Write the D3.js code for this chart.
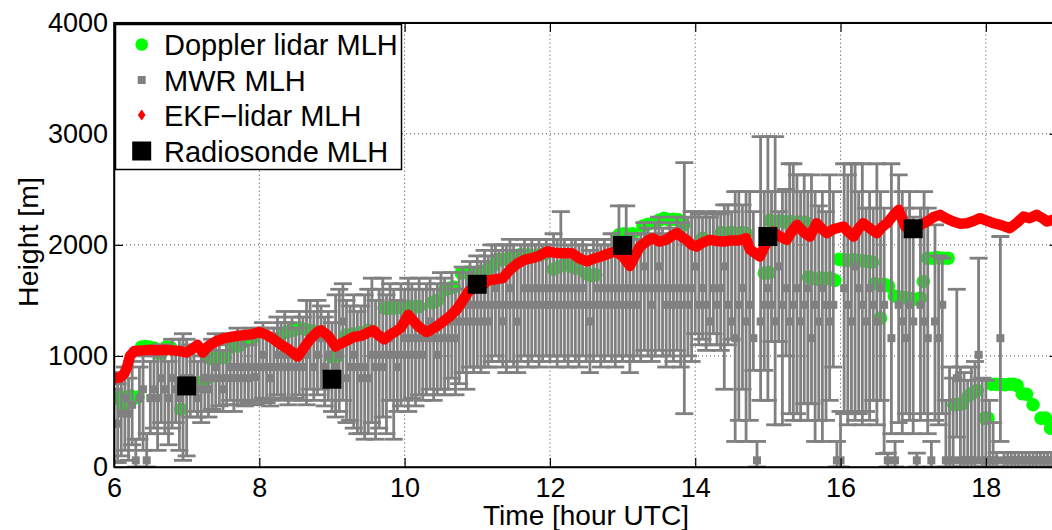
<!DOCTYPE html>
<html>
<head>
<meta charset="utf-8">
<script src="https://cdn.jsdelivr.net/npm/d3@7"></script>
<style>
  html, body { margin: 0; padding: 0; background: #fff; }
  svg { display: block; font-family: "Liberation Sans", Arial, sans-serif; }
</style>
</head>
<body>
<svg id="chart" width="1052" height="530"></svg>
<script>
// ---- Doppler lidar MLH (time in hour UTC, height in m)
const dopTime = [6.03,6.08,6.13,6.18,6.23,6.28,6.33,
  6.38,6.43,6.48,6.55,6.60,6.65,6.72,6.78,
  6.92,7.20,7.25,
  7.28,7.33,7.38,7.43,7.48,7.53,
  7.62,7.67,7.72,7.80,7.90,
  8.32,8.38,8.44,8.50,8.56,8.62,8.68,8.74,
  9.00,9.08,9.20,9.30,9.40,9.50,
  9.72,9.78,9.84,9.90,9.96,10.02,10.08,10.14,10.20,
  10.38,10.45,10.55,10.62,10.68,
  10.78,10.85,10.92,10.98,11.05,11.12,
  11.20,11.27,11.33,11.40,11.45,
  11.52,11.58,11.65,11.72,11.78,11.86,11.93,
  12.05,12.12,12.20,12.28,12.35,
  12.50,12.57,12.63,
  12.95,13.02,13.08,13.14,13.28,13.35,
  13.50,13.57,13.64,13.70,13.77,13.84,
  14.10,14.36,14.43,14.50,14.57,14.64,14.70,
  14.95,15.02,
  15.03,15.10,15.17,15.24,15.31,15.38,15.45,15.52,
  15.56,15.62,15.68,15.74,15.80,15.86,15.92,
  15.98,16.04,16.10,16.17,16.24,16.31,16.38,16.44,
  16.47,16.54,16.60,16.66,16.55,
  16.74,16.80,16.86,16.92,16.98,17.04,17.10,17.14,
  17.20,17.27,17.34,17.41,17.48,
  17.56,17.62,17.68,17.76,17.82,17.88,17.98,18.03,
  18.08,18.14,18.20,18.26,18.32,18.38,18.43,18.50,18.56,
  18.65,18.76,18.82,18.89];
const dopHeight = [620,630,520,630,640,620,630,
  1080,1085,1080,1070,1030,1025,1080,1075,
  520,760,780,
  990,975,975,980,985,990,
  1080,1100,1090,1130,1150,
  1200,1215,1230,1240,1250,1240,1230,1225,
  990,1000,1190,1200,1210,1230,
  1430,1430,1430,1435,1440,1440,1445,1440,1445,
  1480,1500,1595,1610,1620,
  1745,1750,1745,1750,1760,1770,
  1800,1865,1865,1870,1880,
  1900,1910,1910,1905,1900,1910,1920,
  1780,1800,1820,1810,1790,
  1740,1725,1730,
  2090,2100,2095,2100,2170,2185,
  2220,2240,2225,2230,2225,2180,
  2060,2110,2105,2110,2100,2110,2105,
  1745,1750,
  2220,2210,2215,2205,2210,2200,2205,2200,
  1710,1700,1690,1700,1695,1700,1680,
  1870,1865,1860,1865,1860,1855,1850,1845,
  1650,1640,1645,1630,1340,
  1540,1530,1525,1520,1515,1510,1520,1670,
  1880,1880,1885,1880,1880,
  560,565,570,640,665,690,440,440,
  745,745,745,740,745,745,735,660,655,
  560,440,440,350];

// ---- MWR MLH with error bar bounds
const mwrTime = [
  6.00,6.05,6.10,6.15,6.20,6.25,6.30,6.35,6.40,6.45,
  6.50,6.55,6.60,6.65,6.70,6.75,6.80,6.85,6.90,6.95,
  7.00,7.05,7.10,7.15,7.20,7.25,7.30,7.35,7.40,7.45,
  7.50,7.55,7.60,7.65,7.70,7.75,7.80,7.85,7.90,7.95,
  8.00,8.05,8.10,8.15,8.20,8.25,8.30,8.35,8.40,8.45,
  8.50,8.55,8.60,8.65,8.70,8.75,8.80,8.85,8.90,8.95,
  9.00,9.05,9.10,9.15,9.20,9.25,9.30,9.35,9.40,9.45,
  9.50,9.55,9.60,9.65,9.70,9.75,9.80,9.85,9.90,9.95,
  10.00,10.05,10.10,10.15,10.20,10.25,10.30,10.35,10.40,10.45,
  10.50,10.55,10.60,10.65,10.70,10.75,10.80,10.85,10.90,10.95,
  11.00,11.05,11.10,11.15,11.20,11.25,11.30,11.35,11.40,11.45,
  11.50,11.55,11.60,11.65,11.70,11.75,11.80,11.85,11.90,11.95,
  12.00,12.05,12.10,12.15,12.20,12.25,12.30,12.35,12.40,12.45,
  12.50,12.55,12.60,12.65,12.70,12.75,12.80,12.85,12.90,12.95,
  13.00,13.05,13.10,13.15,13.20,13.25,13.30,13.35,13.40,13.45,
  13.50,13.55,13.60,13.65,13.70,13.75,13.80,13.85,13.90,13.95,
  14.00,14.05,14.10,14.15,14.20,14.25,14.30,14.35,14.40,14.45,
  14.50,14.55,14.60,14.65,14.70,14.75,14.80,14.85,14.90,14.95,
  15.00,15.05,15.10,15.15,15.20,15.25,15.30,15.35,15.40,15.45,
  15.50,15.55,15.60,15.65,15.70,15.75,15.80,15.85,15.90,15.95,
  16.00,16.05,16.10,16.15,16.20,16.25,16.30,16.35,16.40,16.45,
  16.50,16.55,16.60,16.65,16.70,16.75,16.80,16.85,16.90,16.95,
  17.00,17.05,17.10,17.15,17.20,17.25,17.30,17.35,17.40,17.45,
  17.50,17.55,17.60,17.65,17.70,17.75,17.80,17.85,17.90,17.95,
  18.00,18.05,18.10,18.15,18.20,18.25,18.30,18.35,18.40,18.45,
  18.50,18.55,18.60,18.65,18.70,18.75,18.80,18.85,18.90,18.95];
const mwrHeight = [
  390,390,480,620,480,560,60,620,700,60,
  620,700,620,800,700,620,800,700,620,800,
  700,800,700,620,700,800,700,800,900,800,
  700,800,900,800,900,800,900,800,900,810,
  900,1010,900,800,900,1010,900,1010,900,1010,
  900,1010,900,1010,1160,900,1010,1160,900,1010,
  800,900,1010,1310,800,900,1010,900,800,900,
  800,1010,900,1010,900,1010,1160,1010,900,1010,
  1160,1010,1160,1010,1160,1010,1160,1310,1160,1010,
  1160,1310,1160,1310,1160,1310,1460,1310,1460,1310,
  1460,1310,1460,1310,1460,1610,1460,1310,1460,1610,
  1460,1310,1460,1610,1460,1610,1460,1610,1460,1610,
  1460,1610,1460,1610,1460,1610,1460,1610,1460,1610,
  1460,1310,1460,1610,1460,1610,1460,1610,1460,1610,
  1460,1610,1460,1610,1460,1610,1805,1610,1460,1610,
  1805,1610,1460,1610,1460,1610,1460,1610,1460,1610,
  1805,1460,1610,1460,1310,1610,1460,1610,1805,1460,
  1310,1160,1460,1610,1310,1460,1160,60,1310,1460,
  1610,1460,1310,1805,1460,1610,1310,1460,1610,1310,
  1460,1610,1160,1460,1310,1610,1460,1310,1460,60,
  60,1610,1460,1310,1805,1610,1460,1310,1610,1460,
  1310,1610,1460,60,1160,60,1460,1310,1160,1460,
  1310,60,1460,1310,1160,60,1310,1160,1460,60,
  60,60,800,60,60,60,60,60,1010,60,
  60,60,60,60,1160,60,60,60,60,60,
  60,60,60,60,60,60,60,60,60,60];
const mwrLower = [
  50,40,100,150,60,200,0,250,150,0,
  300,350,150,400,300,200,350,400,150,60,
  100,450,500,450,400,500,450,520,500,550,
  500,560,600,500,560,600,550,580,600,560,
  600,620,580,550,600,650,620,620,560,600,
  620,650,600,560,700,600,650,700,550,600,
  500,450,500,600,400,420,350,300,300,250,
  300,400,250,350,450,300,600,250,500,550,
  600,500,620,550,650,600,650,700,600,650,
  700,650,700,800,650,750,850,700,900,850,
  900,850,900,900,950,1000,950,900,850,950,
  900,850,950,1000,900,950,1000,900,950,1000,
  950,1000,900,1000,950,900,1000,950,900,1000,
  950,850,950,1000,900,950,1000,950,900,1000,
  950,1000,850,950,1000,950,1050,1000,950,1000,
  1050,1000,900,1000,950,1050,900,480,1000,950,
  1200,1100,1150,1050,1100,1200,1100,1050,700,1100,
  1150,230,420,700,230,420,870,0,600,870,
  600,1130,380,1130,380,1000,480,420,480,420,
  570,420,570,230,420,230,420,600,900,0,
  0,480,380,500,420,480,380,500,420,600,
  380,600,120,0,300,0,400,300,480,420,
  300,0,420,480,300,0,420,380,480,0,
  0,0,270,0,0,0,0,0,60,0,
  0,0,0,0,230,0,0,0,0,0,
  0,0,0,0,0,0,0,0,0,0];
const mwrUpper = [
  700,750,850,900,800,950,250,900,1000,300,
  950,1050,1000,1100,1050,950,1150,1050,1150,1200,
  1150,1100,1050,950,1000,1100,1050,1150,1200,1100,
  1050,1150,1200,1150,1250,1150,1200,1100,1250,1200,
  1250,1300,1250,1200,1250,1350,1300,1400,1300,1350,
  1250,1400,1350,1500,1500,1400,1500,1450,1350,1400,
  1300,1550,1600,1650,1500,1450,1550,1400,1450,1550,
  1600,1700,1500,1600,1700,1550,1650,1600,1500,1650,
  1600,1700,1650,1600,1700,1600,1650,1700,1600,1650,
  1750,1700,1650,1750,1600,1750,1800,1750,1850,1800,
  1900,1850,1950,1900,2000,2000,1950,2000,2000,2050,
  2000,1950,2000,2050,2000,2050,2000,2050,2000,2050,
  2000,2100,2050,2300,2050,2000,2050,2050,2000,2050,
  2000,1950,2050,2050,2000,2050,2000,2100,2050,2350,
  2050,2350,2050,2100,2050,2100,2200,2150,2100,2200,
  2250,2150,2100,2200,2150,2250,2200,2740,2250,2300,
  2300,2280,2250,2300,2250,2280,2300,2280,2360,2360,
  2300,2480,2480,2360,2480,2480,2300,230,2975,2480,
  2975,2480,2975,2300,2480,2500,2730,2730,2630,2480,
  2630,2480,2630,2480,2350,2480,2300,2630,2480,230,
  500,2730,2630,2730,2730,2480,2730,2330,2480,2330,
  2730,2480,2330,125,2730,230,2630,2480,2330,2480,
  2250,125,2330,2480,2330,230,2180,1900,1880,600,
  900,800,1600,900,850,780,900,950,1880,800,
  780,600,400,130,2075,130,130,130,130,130,
  130,130,130,130,130,130,130,130,130,130];

// ---- EKF-lidar MLH
const ekfTime = [6.00,6.08,6.14,6.18,6.22,6.28,6.40,6.50,6.60,6.70,6.80,6.90,
  7.00,7.10,7.15,7.22,7.30,7.40,7.50,7.60,7.75,7.90,
  8.00,8.10,8.20,8.30,8.40,8.53,8.60,8.70,8.80,8.85,8.95,
  9.05,9.15,9.30,9.40,9.50,9.57,9.65,9.72,9.80,9.90,9.95,
  10.05,10.10,10.20,10.30,10.35,10.45,10.55,10.62,10.72,10.80,10.88,10.95,
  11.05,11.15,11.25,11.35,11.45,11.55,11.65,11.75,11.85,11.96,
  12.05,12.15,12.30,12.40,12.51,12.60,12.70,12.80,12.90,
  13.00,13.10,13.17,13.24,13.35,13.42,13.50,13.60,13.68,13.75,13.82,13.88,13.95,
  14.02,14.10,14.20,14.30,14.39,14.50,14.60,14.70,14.75,14.89,14.95,
  15.07,15.15,15.26,15.33,15.40,15.50,15.58,15.67,15.75,15.81,15.90,
  16.04,16.10,16.18,16.25,16.31,16.40,16.50,16.57,16.64,16.72,16.80,16.89,
  17.00,17.10,17.19,17.28,17.37,17.45,17.55,17.65,17.74,17.83,17.92,
  18.00,18.10,18.20,18.33,18.43,18.52,18.60,18.70,18.78,18.84,18.92];
const ekfHeight = [800,805,840,900,1000,1045,1050,1055,1050,1055,1050,1045,
  1030,1075,1100,1030,1090,1130,1155,1170,1185,1195,
  1215,1190,1150,1100,1060,995,1060,1150,1215,1230,1180,
  1085,1120,1170,1180,1210,1230,1180,1150,1190,1230,1255,
  1370,1330,1260,1215,1230,1270,1320,1355,1420,1500,1580,1610,
  1625,1680,1690,1700,1775,1830,1865,1880,1900,1940,
  1930,1925,1925,1880,1850,1875,1895,1920,1940,
  1900,1810,1900,1985,2040,2060,2030,2045,2080,2105,2070,2045,2000,
  1985,2020,2045,2035,2030,2040,2040,2060,1960,1895,1980,
  2120,2080,2045,2120,2180,2110,2075,2195,2140,2105,2140,
  2165,2120,2075,2150,2195,2150,2105,2160,2195,2260,2315,2165,
  2150,2180,2210,2250,2270,2240,2210,2190,2195,2215,2240,
  2220,2195,2180,2150,2200,2255,2240,2270,2240,2210,2225];

// ---- Radiosonde MLH
const sondeTime = [7, 9, 11, 13, 15, 17];
const sondeHeight = [730, 790, 1645, 1995, 2075, 2145];

// ---- Axis ticks and labels
const xTicks = [6, 8, 10, 12, 14, 16, 18];
const yTicks = [0, 1000, 2000, 3000, 4000];
const legendLabels = ["Doppler lidar MLH", "MWR MLH", "EKF\u2212lidar MLH", "Radiosonde MLH"];

const svg = d3.select("#chart");
const plotL = 114, plotR = 1058.5, plotT = 22.7, plotB = 467;

const x = d3.scaleLinear().domain([6, 19]).range([plotL, plotR]);
const y = d3.scaleLinear().domain([0, 4000]).range([plotB, plotT]);

svg.append("rect").attr("width", 1052).attr("height", 530).attr("fill", "#fff");

svg.append("defs").append("clipPath").attr("id", "plotClip")
  .append("rect").attr("x", plotL).attr("y", plotT)
  .attr("width", plotR - plotL).attr("height", plotB - plotT);

// dotted grid
const grid = svg.append("g").attr("stroke", "#444").attr("stroke-width", 1)
  .attr("stroke-dasharray", "1,3");
grid.selectAll("line.gx").data(xTicks.filter(d => d > 6)).join("line").attr("class", "gx")
  .attr("x1", d => x(d)).attr("x2", d => x(d)).attr("y1", plotT).attr("y2", plotB);
grid.selectAll("line.gy").data(yTicks.filter(d => d > 0 && d < 4000)).join("line").attr("class", "gy")
  .attr("y1", d => y(d)).attr("y2", d => y(d)).attr("x1", plotL).attr("x2", plotR);

const plot = svg.append("g").attr("clip-path", "url(#plotClip)");

// Doppler lidar dots
plot.append("g").selectAll("circle").data(dopTime).join("circle")
  .attr("cx", d => x(d)).attr("cy", (d, i) => y(dopHeight[i]))
  .attr("r", 6.8).attr("fill", "#00ff00");

// MWR error bars and markers
const gray = "#808080";
const mwr = plot.append("g").attr("stroke", gray).attr("stroke-width", 2.8);
const capW = 9;
mwrTime.forEach((t, i) => {
  const cx = x(t), lo = y(mwrLower[i]), hi = y(mwrUpper[i]);
  mwr.append("line").attr("x1", cx).attr("x2", cx).attr("y1", lo).attr("y2", hi);
  mwr.append("line").attr("x1", cx - capW).attr("x2", cx + capW).attr("y1", lo).attr("y2", lo);
  mwr.append("line").attr("x1", cx - capW).attr("x2", cx + capW).attr("y1", hi).attr("y2", hi);
});
plot.append("g").selectAll("rect").data(mwrTime).join("rect")
  .attr("x", d => x(d) - 4).attr("y", (d, i) => y(mwrHeight[i]) - 4)
  .attr("width", 8).attr("height", 8).attr("fill", gray);

// EKF-lidar trace
plot.append("path")
  .datum(ekfTime.map((t, i) => [t, ekfHeight[i]]))
  .attr("fill", "none").attr("stroke", "#ff0000").attr("stroke-width", 10.5)
  .attr("stroke-linejoin", "round").attr("stroke-linecap", "round")
  .attr("d", d3.line().x(d => x(d[0])).y(d => y(d[1])));

// Radiosonde squares
plot.append("g").selectAll("rect").data(sondeTime).join("rect")
  .attr("x", d => x(d) - 9.5).attr("y", (d, i) => y(sondeHeight[i]) - 9.5)
  .attr("width", 19).attr("height", 19).attr("fill", "#000");

// axes (ticks inward on all four sides)
const tickFont = "27px";
const gx = svg.append("g").attr("transform", `translate(0,${plotB})`)
  .call(d3.axisBottom(x).tickValues(xTicks).tickFormat(d3.format("d"))
    .tickSizeInner(-9).tickSizeOuter(0).tickPadding(11));
const gy = svg.append("g").attr("transform", `translate(${plotL},0)`)
  .call(d3.axisLeft(y).tickValues(yTicks).tickFormat(d3.format("d"))
    .tickSizeInner(-9).tickSizeOuter(0).tickPadding(6));
const gt = svg.append("g").attr("transform", `translate(0,${plotT})`)
  .call(d3.axisTop(x).tickValues(xTicks).tickSizeInner(-9).tickSizeOuter(0).tickFormat(""));
const gr = svg.append("g").attr("transform", `translate(${plotR},0)`)
  .call(d3.axisRight(y).tickValues(yTicks).tickSizeInner(-9).tickSizeOuter(0).tickFormat(""));
[gx, gy, gt, gr].forEach(g => {
  g.select(".domain").attr("stroke", "#000").attr("stroke-width", 1.5);
  g.selectAll(".tick line").attr("stroke", "#000").attr("stroke-width", 1.2);
  g.selectAll(".tick text").attr("fill", "#000")
    .style("font-size", tickFont).style("font-family", '"Liberation Sans", Arial, sans-serif');
});
svg.append("rect").attr("x", plotL).attr("y", plotT).attr("width", plotR - plotL)
  .attr("height", plotB - plotT).attr("fill", "none").attr("stroke", "#000").attr("stroke-width", 1.5);

// axis titles
svg.append("text").attr("x", 586).attr("y", 525).attr("text-anchor", "middle")
  .style("font-size", "28px").text("Time [hour UTC]");
svg.append("text").attr("transform", "translate(38,242) rotate(-90)")
  .attr("text-anchor", "middle").style("font-size", "28.5px").text("Height [m]");

// legend
const lg = svg.append("g");
lg.append("rect").attr("x", 115.5).attr("y", 24.5).attr("width", 286).attr("height", 145)
  .attr("fill", "#fff").attr("stroke", "#000").attr("stroke-width", 1.5);
const rowY = [44.5, 80, 115, 151];
const mx = 141.7;
lg.append("circle").attr("cx", mx).attr("cy", rowY[0]).attr("r", 6.3).attr("fill", "#00ff00");
lg.append("rect").attr("x", mx - 4).attr("y", rowY[1] - 4).attr("width", 8).attr("height", 8).attr("fill", gray);
lg.append("path").attr("d", `M${mx},${rowY[2] - 5.5}L${mx + 3.8},${rowY[2]}L${mx},${rowY[2] + 5.5}L${mx - 3.8},${rowY[2]}Z`)
  .attr("fill", "#ff0000");
lg.append("rect").attr("x", mx - 9.5).attr("y", rowY[3] - 9.5).attr("width", 19).attr("height", 19).attr("fill", "#000");
lg.selectAll("text").data(legendLabels).join("text")
  .attr("x", 164).attr("y", (d, i) => rowY[i] + 10.5)
  .style("font-size", "29px").text(d => d);
</script>
</body>
</html>
